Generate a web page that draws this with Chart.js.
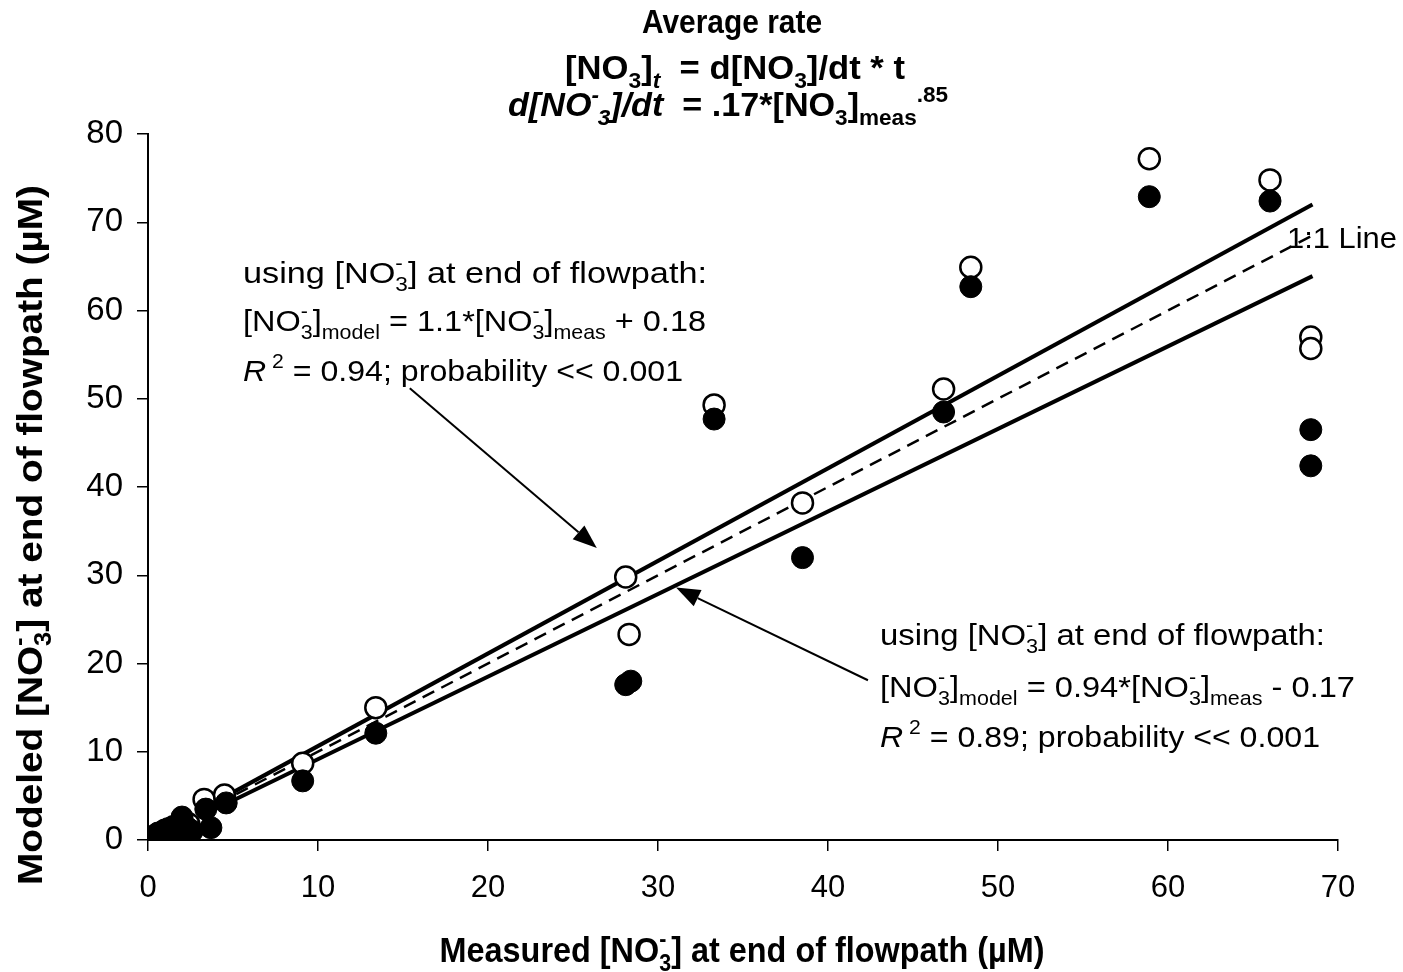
<!DOCTYPE html>
<html><head><meta charset="utf-8">
<script src="https://cdn.jsdelivr.net/npm/chart.js@4.4.0/dist/chart.umd.min.js"></script>
<style>html,body{margin:0;padding:0;background:#fff;}#wrap{width:1403px;height:972px;}</style>
</head><body><div id="wrap"><canvas id="c" width="1403" height="972"></canvas></div>
<script>
// ---- data ----
const openX   = [0.1, 0.5, 1.0, 1.5, 2.0, 2.4, 3.3, 4.5, 9.1, 13.4, 28.1, 28.3, 33.3, 38.5, 46.8, 48.4, 58.9, 66.0, 68.4, 68.4];
const openY   = [0.1, 0.6, 1.1, 1.5, 2.2, 1.8, 4.6, 5.1, 8.7, 15.0, 29.8, 23.3, 49.3, 38.2, 51.1, 64.9, 77.2, 74.8, 57.0, 55.7];
const filledX = [0.1, 0.3, 0.6, 0.9, 1.0, 1.2, 1.5, 1.6, 1.8, 2.0, 2.3, 2.6, 3.4, 3.7, 4.6, 9.1, 13.4, 28.1, 28.4, 33.3, 38.5, 46.8, 48.4, 58.9, 66.0, 68.4, 68.4];
const filledY = [0.1, 0.4, 0.8, 1.0, 0.5, 1.3, 1.2, 0.7, 1.6, 2.6, 1.4, 1.0, 3.5, 1.4, 4.2, 6.7, 12.1, 17.6, 18.0, 47.7, 32.0, 48.5, 62.7, 72.9, 72.4, 46.5, 42.4];
const fitUpperX = [3, 68.5];  const fitUpperY = [3.3, 72.0];
const fitLowerX = [3, 68.5];  const fitLowerY = [2.6, 63.9];
const oneToOneX = [3, 68.5];  const oneToOneY = [3, 68.5];
const xTicks = [0, 10, 20, 30, 40, 50, 60, 70];
const yTicks = [0, 10, 20, 30, 40, 50, 60, 70, 80];
const arrowUpperFrom = [15.4, 51.2], arrowUpperTo = [26.4, 33.1];
const arrowLowerFrom = [42.35, 18.1], arrowLowerTo = [31.06, 28.6];

const zip = (xs, ys) => xs.map((x, i) => ({x, y: ys[i]}));
const FAM = '"Liberation Sans", Arial, sans-serif';

// rich text helper
const T = (t, o = {}) => Object.assign({t}, o);
const SUB = (t, o = {}) => Object.assign({t, sub: true}, o);
const SUP = (t, o = {}) => Object.assign({t, sup: true}, o);
function drawRich(ctx, segs, o) {
  const size = o.size, items = [];
  let w = 0, pend = 0;
  for (const s of segs) {
    const small = s.sub || s.sup;
    const sz = small ? size * 0.66 : size;
    const b = s.b !== undefined ? s.b : o.bold;
    const it = s.i !== undefined ? s.i : o.italic;
    const font = (it ? 'italic ' : '') + (b ? 'bold ' : '') + sz + 'px ' + FAM;
    ctx.font = font;
    const tw = ctx.measureText(s.t).width;
    const dy = s.sub ? size * 0.27 : s.sup ? -size * 0.42 : 0;
    items.push({t: s.t, font, x: w, dy});
    if (s.stack) { pend = Math.max(pend, tw); }
    else { w += Math.max(tw, pend); pend = 0; }
  }
  const sx = o.width ? o.width / w : 1;
  ctx.save();
  ctx.fillStyle = '#000';
  ctx.textBaseline = 'alphabetic';
  ctx.textAlign = 'left';
  ctx.translate(o.x, o.y);
  if (o.rotate) ctx.rotate(-Math.PI / 2);
  if (o.align === 'center') ctx.translate(-w * sx / 2, 0);
  ctx.scale(sx, 1);
  for (const it of items) { ctx.font = it.font; ctx.fillText(it.t, it.x, it.dy); }
  ctx.restore();
}

function arrow(ctx, x1, y1, x2, y2) {
  const ang = Math.atan2(y2 - y1, x2 - x1), L = 24, W = 9;
  const bx = x2 - L * Math.cos(ang), by = y2 - L * Math.sin(ang);
  ctx.save();
  ctx.strokeStyle = '#000'; ctx.fillStyle = '#000'; ctx.lineWidth = 2;
  ctx.beginPath(); ctx.moveTo(x1, y1); ctx.lineTo(bx, by); ctx.stroke();
  ctx.beginPath();
  ctx.moveTo(x2, y2);
  ctx.lineTo(bx + W * Math.sin(ang), by - W * Math.cos(ang));
  ctx.lineTo(bx - W * Math.sin(ang), by + W * Math.cos(ang));
  ctx.closePath(); ctx.fill();
  ctx.restore();
}

const textPlugin = {
  id: 'texts',
  afterDraw(chart) {
    const ctx = chart.ctx, xs = chart.scales.x, ys = chart.scales.y;
    const px = v => xs.getPixelForValue(v), py = v => ys.getPixelForValue(v);
    arrow(ctx, px(arrowUpperFrom[0]), py(arrowUpperFrom[1]), px(arrowUpperTo[0]), py(arrowUpperTo[1]));
    arrow(ctx, px(arrowLowerFrom[0]), py(arrowLowerFrom[1]), px(arrowLowerTo[0]), py(arrowLowerTo[1]));
    // title
    drawRich(ctx, [T('Average rate')], {x: 732, y: 33, size: 34, bold: true, align: 'center', width: 180});
    drawRich(ctx, [T('[NO'), SUB('3'), T(']'), SUB('t', {i: true}), T('  = d[NO'), SUB('3'), T(']/dt * t')],
      {x: 735, y: 79, size: 34, bold: true, align: 'center', width: 340});
    drawRich(ctx, [T('d[NO', {i: true}), SUB(' 3', {i: true, stack: true}), SUP('-', {i: true}), T(']/dt', {i: true}),
      T('  = .17*[NO'), SUB('3'), T(']'), SUB('meas'), SUP('.85')],
      {x: 728, y: 116, size: 34, bold: true, align: 'center', width: 440});
    // axis titles
    drawRich(ctx, [T('Measured [NO'), SUB('3', {stack: true}), SUP('-'), T('] at end of flowpath (\u00b5M)')],
      {x: 742, y: 962, size: 35, bold: true, align: 'center', width: 605});
    drawRich(ctx, [T('Modeled [NO'), SUB('3', {stack: true}), SUP('-'), T('] at end of flowpath (\u00b5M)')],
      {x: 42, y: 535, size: 35, bold: true, align: 'center', width: 700, rotate: true});
    // left annotation
    const A = {size: 30, bold: false};
    drawRich(ctx, [T('using [NO'), SUB('3', {stack: true}), SUP('-'), T('] at end of flowpath:')],
      Object.assign({x: 243, y: 283, width: 464}, A));
    drawRich(ctx, [T('[NO'), SUB('3', {stack: true}), SUP('-'), T(']'), SUB('model'), T(' = 1.1*[NO'),
      SUB('3', {stack: true}), SUP('-'), T(']'), SUB('meas'), T(' + 0.18')],
      Object.assign({x: 243, y: 331, width: 463}, A));
    drawRich(ctx, [T('R', {i: true}), SUP(' 2'), T(' = 0.94; probability << 0.001')],
      Object.assign({x: 243, y: 381, width: 440}, A));
    // right annotation
    drawRich(ctx, [T('using [NO'), SUB('3', {stack: true}), SUP('-'), T('] at end of flowpath:')],
      Object.assign({x: 880, y: 645, width: 445}, A));
    drawRich(ctx, [T('[NO'), SUB('3', {stack: true}), SUP('-'), T(']'), SUB('model'), T(' = 0.94*[NO'),
      SUB('3', {stack: true}), SUP('-'), T(']'), SUB('meas'), T(' - 0.17')],
      Object.assign({x: 880, y: 697, width: 475}, A));
    drawRich(ctx, [T('R', {i: true}), SUP(' 2'), T(' = 0.89; probability << 0.001')],
      Object.assign({x: 880, y: 747, width: 440}, A));
    drawRich(ctx, [T('1:1 Line')], Object.assign({x: 1287, y: 248, width: 110}, A));
  }
};

const axisCommon = {
  type: 'linear',
  grid: {drawOnChartArea: false, drawTicks: true, tickLength: 11, color: '#000', lineWidth: 1.5},
  border: {display: true, color: '#000', width: 2},
};

new Chart(document.getElementById('c'), {
  type: 'scatter',
  data: {
    datasets: [
      {label: 'filled', data: zip(filledX, filledY), order: 0, pointRadius: 11, pointBackgroundColor: '#000',
       pointBorderColor: '#000', pointBorderWidth: 1, showLine: false},
      {label: 'open', data: zip(openX, openY), order: 1, pointRadius: 10.5, pointBackgroundColor: '#fff',
       pointBorderColor: '#000', pointBorderWidth: 2.5, showLine: false},
      {label: 'upper fit', data: zip(fitUpperX, fitUpperY), order: 2, showLine: true, pointRadius: 0,
       borderColor: '#000', borderWidth: 4},
      {label: 'lower fit', data: zip(fitLowerX, fitLowerY), order: 3, showLine: true, pointRadius: 0,
       borderColor: '#000', borderWidth: 4},
      {label: '1:1', data: zip(oneToOneX, oneToOneY), order: 4, showLine: true, pointRadius: 0,
       borderColor: '#000', borderWidth: 2.5, borderDash: [13, 8]}
    ]
  },
  options: {
    responsive: false, animation: false,
    layout: {padding: {top: 134, right: 65, left: 0, bottom: 0}},
    plugins: {legend: {display: false}, tooltip: {enabled: false}, title: {display: false}},
    scales: {
      x: Object.assign({}, axisCommon, {
        min: 0, max: 70,
        afterBuildTicks: s => { s.ticks = xTicks.map(v => ({value: v})); },
        afterFit: s => { s.height = 132; },
        ticks: {color: '#000', font: {family: FAM, size: 31}, padding: 19, maxRotation: 0, autoSkip: false}
      }),
      y: Object.assign({}, axisCommon, {
        min: 0, max: 80,
        afterBuildTicks: s => { s.ticks = yTicks.map(v => ({value: v})); },
        afterFit: s => { s.width = 148; },
        ticks: {color: '#000', font: {family: FAM, size: 33}, padding: 14, autoSkip: false}
      })
    }
  },
  plugins: [textPlugin]
});
</script></body></html>
